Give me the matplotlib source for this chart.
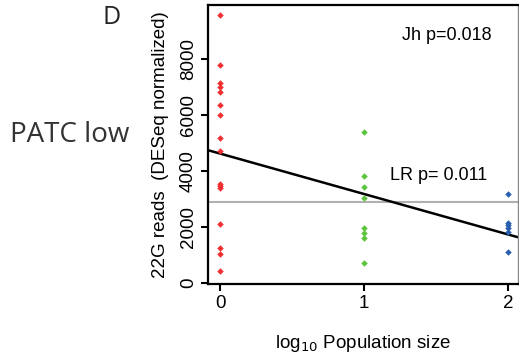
import numpy as np
import matplotlib.pyplot as plt

plt.rcParams['font.family'] = ['Liberation Sans', 'DejaVu Sans']

# --- Data ---
# log10 population size groups
x_groups = [0, 1, 2]
group_colors = ['#f03030', '#5cc43c', '#2a5fb0']

reads_pop0 = [9590, 7805, 7140, 7025, 6820, 6360, 6005, 5200, 4735,
              3550, 3470, 3400, 2120, 1245, 1020, 425]
reads_pop1 = [5410, 3810, 3445, 3055, 1955, 1775, 1600, 700]
reads_pop2 = [3195, 2130, 2060, 1980, 1810, 1090]

ref_level = 2880  # grey horizontal reference line

yticks = [0, 2000, 4000, 6000, 8000]
xticks = [0, 1, 2]

groups = [reads_pop0, reads_pop1, reads_pop2]

# --- Plotting ---
W, H = 519, 358
fig = plt.figure(figsize=(W / 100, H / 100), dpi=100)
ax = fig.add_axes([208 / W, 1 - 284 / H, 310 / W, 279 / H])

for xg, vals, col in zip(x_groups, groups, group_colors):
    ax.scatter(np.full(len(vals), xg), vals, marker='D', s=11, color=col,
               linewidths=0, zorder=3)

# linear regression over all points
all_x = np.concatenate([np.full(len(v), xg) for xg, v in zip(x_groups, groups)])
all_y = np.concatenate(groups)
slope, intercept = np.polyfit(all_x, all_y, 1)
xl = np.array([-0.2, 2.2])
ax.plot(xl, intercept + slope * xl, color='black', linewidth=1.8, zorder=2)

ax.axhline(ref_level, color='#b0b0b0', linewidth=1.5, zorder=1)

ax.set_xlim(-0.085, 2.07)
ax.set_ylim(-40, 9950)
ax.set_xticks(xticks)
ax.set_yticks(yticks)
ax.set_yticklabels([str(t) for t in yticks], rotation=90, va='center')
ax.tick_params(labelsize=13.5, length=5, width=1.5, direction='out', pad=3)

for side in ['left', 'bottom', 'top']:
    ax.spines[side].set_linewidth(1.6)
ax.spines['right'].set_linewidth(1.0)
ax.spines['right'].set_color('#888888')

ax.set_ylabel('22G reads  (DESeq normalized)', fontsize=13.5, labelpad=8)
ax.set_xlabel('log$_{10}$ Population size', fontsize=13.5, labelpad=15)

fig.text(402 / W, 1 - 35 / H, 'Jh p=0.018', fontsize=13,
         va='center', ha='left')
fig.text(390 / W, 1 - 175 / H, 'LR p= 0.011', fontsize=13,
         va='center', ha='left')

fig.text(112 / W, 1 - 17 / H, 'D', fontsize=18, ha='center', va='center',
         family=['Open Sans', 'DejaVu Sans'], color='#222222')
fig.text(70 / W, 1 - 135 / H, 'PATC low', fontsize=20, ha='center',
         va='center', family=['Open Sans', 'DejaVu Sans'], color='#333333')

fig.savefig('out.png', dpi=100)
